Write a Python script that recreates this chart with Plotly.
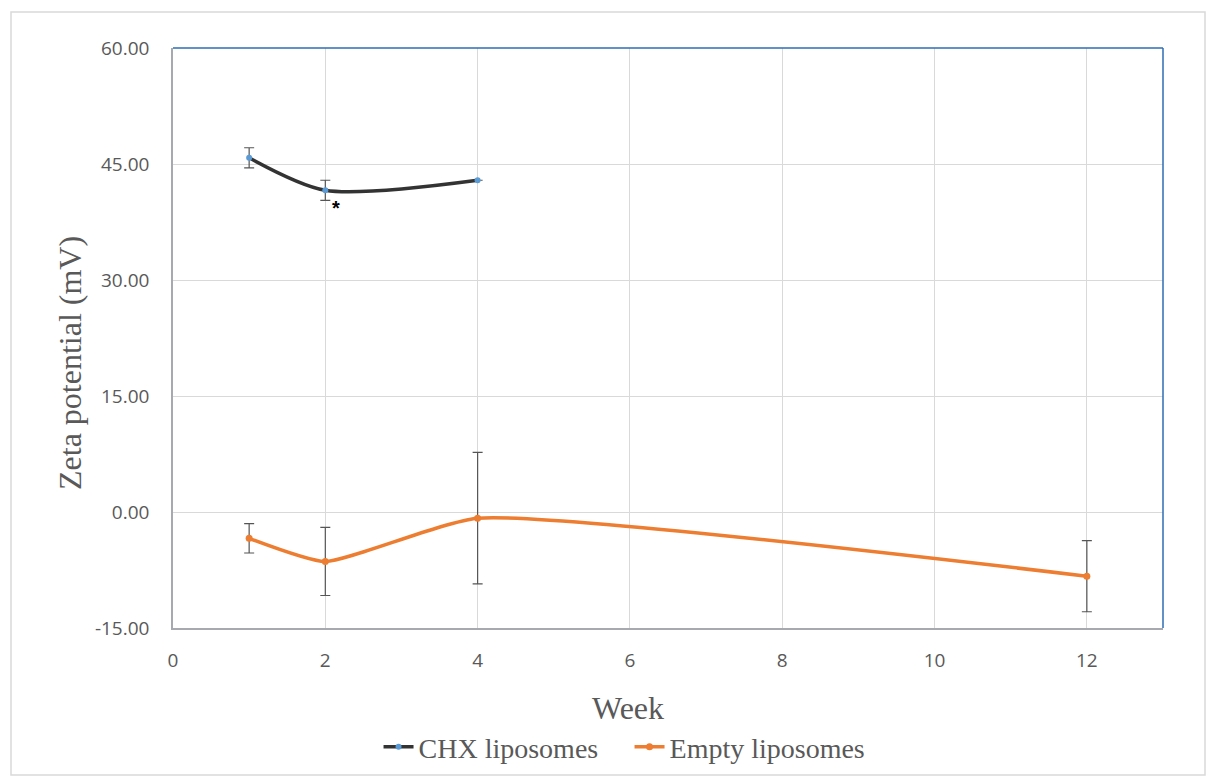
import plotly.graph_objects as go

weeks_chx = [1, 2, 4]
zeta_chx = [45.8, 41.6, 42.9]
err_chx = [1.3, 1.3, 0.0]

weeks_empty = [1, 2, 4, 12]
zeta_empty = [-3.4, -6.4, -0.8, -8.3]
err_empty = [1.9, 4.4, 8.5, 4.6]

x_ticks = [0, 2, 4, 6, 8, 10, 12]
y_ticks = [-15, 0, 15, 30, 45, 60]
y_ticklabels = ["-15.00", "0.00", "15.00", "30.00", "45.00", "60.00"]

W, H = 1206, 776
L, R, T, B = 173, 43, 48, 148
PW, PH = W - L - R, H - T - B

fig = go.Figure()
fig.add_trace(go.Scatter(
    x=weeks_chx, y=zeta_chx, name="CHX liposomes", mode="lines+markers",
    line=dict(color="#333333", width=3.5, shape="spline", smoothing=0.8),
    marker=dict(color="#5b9bd5", size=6),
    error_y=dict(type="data", array=err_chx, color="#555555", thickness=1.2, width=5),
))
fig.add_trace(go.Scatter(
    x=weeks_empty, y=zeta_empty, name="Empty liposomes", mode="lines+markers",
    line=dict(color="#ed7d31", width=3.5, shape="spline", smoothing=0.5),
    marker=dict(color="#ed7d31", size=7),
    error_y=dict(type="data", array=err_empty, color="#555555", thickness=1.2, width=5),
))

fig.add_annotation(x=2.06, y=zeta_chx[1] - 0.6, text="<b>*</b>", showarrow=False,
                   xanchor="left", yanchor="top", font=dict(size=20, color="black", family="Liberation Sans"))

title_font = dict(family="Liberation Serif", size=32, color="#595959")
fig.add_annotation(xref="paper", yref="paper", x=(628 - L) / PW, y=-(708 - (T + PH)) / PH,
                   text="Week", showarrow=False, xanchor="center", yanchor="middle", font=title_font)
fig.add_annotation(xref="paper", yref="paper", x=(70 - L) / PW, y=1 - (363 - T) / PH,
                   text="Zeta potential (mV)", showarrow=False, textangle=-90,
                   xanchor="center", yanchor="middle", font=title_font)

# outer chart border
fig.add_shape(type="rect", xref="paper", yref="paper",
              x0=(11 - L) / PW, x1=(1205 - L) / PW,
              y0=-(775 - (T + PH)) / PH, y1=1 + (T - 12) / PH,
              line=dict(color="#d9d9d9", width=1.5), layer="below")
# plot area frame: top/right blue, left/bottom gray
fig.add_shape(type="line", xref="paper", yref="paper", x0=0, x1=1, y0=1, y1=1,
              line=dict(color="#2e6db4", width=1.5))
fig.add_shape(type="line", xref="paper", yref="paper", x0=1, x1=1, y0=0, y1=1,
              line=dict(color="#2e6db4", width=1.5))

fig.update_layout(
    width=W, height=H,
    margin=dict(l=L, r=R, t=T, b=B, autoexpand=False),
    paper_bgcolor="white", plot_bgcolor="white",
    showlegend=True,
    legend=dict(orientation="h", xref="container", yref="container",
                x=0.522, y=0.005, xanchor="center", yanchor="bottom",
                bgcolor="rgba(0,0,0,0)", entrywidth=206,
                font=dict(family="Liberation Serif", size=28, color="#595959"),
                itemwidth=30, tracegroupgap=0),
    xaxis=dict(range=[0, 13], tickvals=x_ticks, showgrid=True, gridcolor="#d9d9d9",
               gridwidth=1, zeroline=False, showline=True, linecolor="#a6aab0", linewidth=1.5,
               ticks="outside", ticklen=14, tickcolor="rgba(0,0,0,0)", automargin=False,
               tickfont=dict(family="Open Sans", size=19, color="#595959")),
    yaxis=dict(range=[-15, 60], tickvals=y_ticks, ticktext=y_ticklabels, showgrid=True,
               gridcolor="#d9d9d9", gridwidth=1, zeroline=False, showline=True,
               linecolor="#a6aab0", linewidth=1.5, automargin=False,
               ticks="outside", ticklen=18, tickcolor="rgba(0,0,0,0)",
               tickfont=dict(family="Open Sans", size=19, color="#595959")),
)

fig.write_html("out.html")
